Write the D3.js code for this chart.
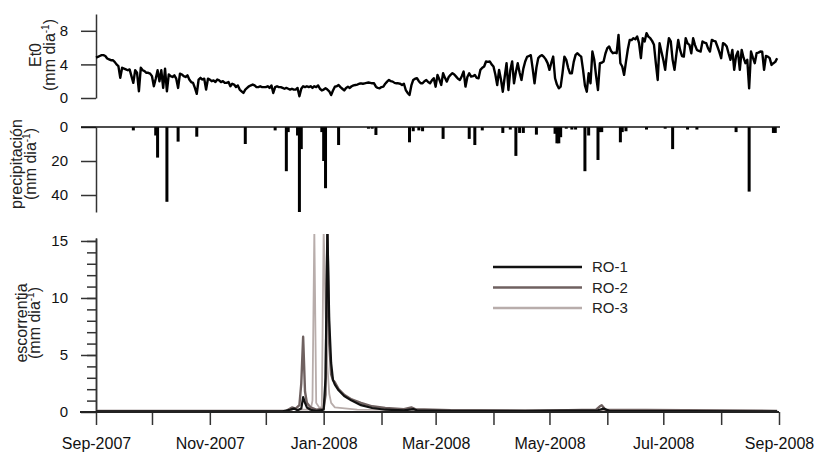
<!DOCTYPE html>
<html>
<head>
<meta charset="utf-8">
<script src="https://cdn.jsdelivr.net/npm/d3@7"></script>
<style>
  body { margin: 0; background: #fff; }
  text { font-family: "Liberation Sans", Arial, sans-serif; }
</style>
</head>
<body>
<div id="chart"></div>
<script>
// ---- data ----
const startDate = new Date(2007, 8, 1);   // day 0 = 1 Sep 2007
const endDate = new Date(2008, 8, 1);

// daily ET0, mm/day, Sep 2007 .. Aug 2008
const et0Values = [
  // Sep
  4.8,4.9,5.0,5.1,5.1,5.0,4.7,4.6,4.5,4.5,4.3,4.0,3.8,2.4,3.6,3.5,3.4,3.3,3.4,2.6,1.8,3.3,3.0,0.8,3.6,3.3,3.2,3.0,3.0,2.9,
  // Oct
  2.6,1.4,2.3,3.3,2.0,3.3,1.2,3.5,0.8,2.8,2.6,2.5,2.7,2.3,1.2,2.9,2.8,2.6,2.5,2.7,2.2,1.9,1.8,1.2,0.5,2.2,2.4,2.2,2.3,1.0,2.3,
  // Nov
  2.2,2.0,2.1,1.9,2.2,2.1,1.9,2.0,1.8,1.8,1.9,1.4,1.7,1.6,1.3,1.5,1.0,0.8,0.6,1.0,1.2,1.4,1.5,1.6,1.5,1.3,1.3,1.4,1.3,1.3,
  // Dec
  1.3,1.4,1.2,1.5,0.6,1.3,1.4,1.3,1.3,1.2,1.1,1.2,1.1,1.0,1.1,1.0,1.0,1.2,0.2,1.1,1.4,1.3,1.4,1.3,1.4,1.2,1.4,1.3,1.5,1.1,0.9,
  // Jan
  1.0,1.15,1.0,0.8,0.35,0.9,1.35,1.4,1.55,1.3,1.1,0.9,1.2,1.35,1.2,1.4,1.5,1.55,1.6,1.7,1.75,1.7,1.75,1.8,1.85,1.8,1.75,1.75,1.35,1.2,1.15,
  // Feb
  1.3,1.35,1.7,1.95,2.15,2.0,1.95,1.8,1.75,1.75,1.7,1.55,1.7,0.95,0.6,0.35,1.5,2.15,2.3,2.35,2.0,1.75,1.75,2.0,2.15,1.9,1.75,2.1,2.35,
  // Mar
  1.35,2.75,2.2,1.55,2.95,2.4,1.95,2.5,2.75,2.95,2.8,2.55,2.3,2.15,2.6,3.15,1.35,2.5,2.95,2.55,2.6,2.75,2.4,2.35,3.35,3.6,3.75,4.35,4.3,4.35,4.0,
  // Apr
  3.75,2.8,1.55,3.35,2.2,0.75,2.5,4.15,0.95,3.3,4.35,1.75,3.1,4.15,3.0,2.15,3.5,4.35,4.9,5.0,5.1,3.5,1.75,3.6,4.75,5.0,5.1,4.9,4.6,4.15,
  // May
  3.35,4.2,4.93,2.35,1.6,1.15,1.35,3.0,4.93,4.54,3.6,2.94,2.94,4.3,5.13,5.33,5.1,4.93,3.35,1.5,0.75,2.94,1.75,5.53,4.54,2.6,0.95,4.14,4.2,4.34,5.3,
  // Jun
  5.93,6.13,5.6,5.33,5.4,5.33,7.52,4.14,3.75,2.75,4.34,5.8,6.92,6.9,7.12,7.0,7.32,6.53,4.74,7.12,6.73,7.72,7.3,7.12,6.8,6.33,4.14,2.15,6.53,5.5,
  // Jul
  4.54,3.35,5.5,7.12,6.73,4.54,3.35,5.2,6.92,5.73,5.0,4.93,7.12,6.5,6.33,5.33,7.12,6.3,5.73,5.6,5.53,6.73,6.6,6.53,5.9,5.53,6.92,6.8,6.73,6.13,5.5,
  // Aug
  4.74,6.53,6.4,6.13,5.3,4.54,5.73,3.35,5.0,5.53,3.35,5.73,4.8,4.14,4.54,1.15,5.53,4.8,4.14,5.33,5.4,5.53,5.5,3.35,5.0,4.93,4.74,3.94,4.14,4.3,4.74
];

// rain events: day index and mm/day
const precipDays = [20, 32, 33, 38, 44, 54, 80, 96, 102, 103, 108, 109, 110, 121, 122, 123, 130, 146, 148, 150,
  168, 170, 173, 175, 186, 200, 203, 207, 218, 222, 225, 227, 229, 236, 246, 247, 248, 249, 252, 255, 257,
  262, 264, 269, 270, 271, 281, 282, 284, 295, 305, 309, 317, 322, 343, 350, 363, 364];
const precipMm = [2, 5, 18, 44, 8.6, 5.7, 10, 2, 26, 3, 5, 50, 13, 3, 20, 36, 10.6, 1, 1, 4.7,
  9, 2.5, 2, 2.5, 7, 7, 10.6, 2, 3.5, 1.5, 17, 3.5, 3.5, 4.5, 4, 9.6, 9.6, 6, 1, 1.5, 1.5,
  26, 5, 19.4, 3, 3, 9, 3, 2.5, 1.5, 1, 13, 1.5, 1.5, 3, 38, 3.5, 3.5];

// runoff, mm/day (day index, value) per plot
const ro1Days = [0, 100, 104, 106, 108, 110, 111, 112, 113, 115, 118, 122, 123, 124, 125, 126, 127, 128, 130, 133, 137, 142, 148, 155, 165, 170, 172, 190, 230, 269, 272, 275, 365];
const ro1Vals = [0.05, 0.05, 0.2, 0.3, 0.15, 0.3, 1.3, 0.8, 0.4, 0.2, 0.1, 0.2, 3, 16, 8, 4.3, 2.8, 2.4, 1.9, 1.4, 1.0, 0.6, 0.35, 0.2, 0.15, 0.25, 0.15, 0.1, 0.1, 0.15, 0.3, 0.1, 0.05];
const ro2Days = [0, 102, 105, 107, 109, 110, 111, 112, 113, 115, 118, 122, 123, 124, 125, 126, 127, 128, 130, 133, 137, 142, 148, 155, 165, 169, 171, 190, 230, 268, 270, 271, 273, 365];
const ro2Vals = [0.1, 0.1, 0.4, 0.3, 0.6, 2.5, 6.6, 1.8, 0.8, 0.4, 0.2, 0.3, 1.5, 16, 6, 3.3, 2.8, 2.6, 2.0, 1.5, 1.1, 0.8, 0.5, 0.35, 0.25, 0.4, 0.25, 0.15, 0.1, 0.2, 0.5, 0.6, 0.2, 0.1];
const ro3Days = [0, 104, 106, 108, 115, 116, 117, 118, 120, 121, 122, 123, 124, 125, 126, 128, 140, 365];
const ro3Vals = [0.1, 0.1, 0.3, 0.2, 0.2, 1, 16, 0.8, 0.3, 0.5, 16, 9, 4, 1.6, 0.8, 0.4, 0.2, 0.1];

const seriesNames = ["RO-1", "RO-2", "RO-3"];
const seriesColors = ["#111111", "#6f6160", "#b8adab"];

const et0Ticks = [0, 4, 8];
const precipTicks = [0, 20, 40];
const runoffTicks = [0, 5, 10, 15];

// ---- drawing ----
const W = 815, H = 456;
const svg = d3.select("#chart").append("svg").attr("width", W).attr("height", H);
const dayDate = d => d3.timeDay.offset(startDate, d);

const x = d3.scaleTime().domain([startDate, endDate]).range([96, 779]);

function styleAxis(g, size) {
    g.attr("font-size", size).attr("font-family", '"Liberation Sans", Arial, sans-serif');
    g.selectAll("path, line").attr("stroke", "#333").attr("stroke-width", 1.5);
    g.selectAll("text").attr("fill", "#111");
}

// ET0 panel
const yEt = d3.scaleLinear().domain([0, 10]).range([98, 14]);
svg.append("g").attr("transform", "translate(96,0)")
    .call(d3.axisLeft(yEt).tickValues(et0Ticks).tickSize(15).tickSizeOuter(0).tickPadding(13))
    .call(g => styleAxis(g, 15));

svg.append("path")
    .datum(et0Values)
    .attr("fill", "none")
    .attr("stroke", "#000")
    .attr("stroke-width", 2.4)
    .attr("stroke-linejoin", "round")
    .attr("d", d3.line().x((d, i) => x(dayDate(i))).y(d => yEt(d)));

// precipitation panel (inverted bars)
const yP = d3.scaleLinear().domain([0, 50]).range([127, 212]);
svg.append("g").attr("transform", "translate(96,0)")
    .call(d3.axisLeft(yP).tickValues(precipTicks).tickSize(15).tickSizeOuter(0).tickPadding(13))
    .call(g => styleAxis(g, 15));

svg.selectAll(".pbar")
    .data(precipDays)
    .enter()
    .append("rect")
    .attr("class", "pbar")
    .attr("x", d => x(dayDate(d)) - 1.5)
    .attr("y", yP(0))
    .attr("width", 3)
    .attr("height", (d, i) => yP(precipMm[i]) - yP(0))
    .attr("fill", "#000");

svg.append("line")
    .attr("x1", 81).attr("x2", x(endDate) + 1)
    .attr("y1", yP(0)).attr("y2", yP(0))
    .attr("stroke", "#111").attr("stroke-width", 1.5);

// runoff panel
const yR = d3.scaleLinear().domain([0, 15.26]).range([412, 238]);

svg.append("g").attr("transform", "translate(96,0)")
    .call(d3.axisLeft(yR).tickValues(d3.range(1, 16)).tickSize(9).tickSizeOuter(0).tickFormat(""))
    .call(g => styleAxis(g, 15));
svg.append("g").attr("transform", "translate(96,0)")
    .call(d3.axisLeft(yR).tickValues(runoffTicks).tickSize(15).tickSizeOuter(0).tickPadding(13))
    .call(g => styleAxis(g, 15));

const fmt = d3.timeFormat("%b-%Y");
svg.append("g").attr("transform", "translate(0,412)")
    .call(d3.axisBottom(x).ticks(d3.timeMonth.every(1)).tickSize(13).tickSizeOuter(0).tickPadding(12.6)
        .tickFormat(d => d.getMonth() % 2 === 0 ? fmt(d) : ""))
    .call(g => styleAxis(g, 16))
    .call(g => g.select(".domain").remove());

svg.append("defs").append("clipPath").attr("id", "clipR")
    .append("rect").attr("x", 96).attr("y", 234).attr("width", 690).attr("height", 180);

const roLine = d3.line().x(d => x(dayDate(d[0]))).y(d => yR(d[1]));
const roSeries = [
    {days: ro3Days, vals: ro3Vals, idx: 2, w: 1.8},
    {days: ro2Days, vals: ro2Vals, idx: 1, w: 2.4},
    {days: ro1Days, vals: ro1Vals, idx: 0, w: 2.2}
];
roSeries.forEach(s => {
    svg.append("path")
        .datum(s.days.map((d, i) => [d, s.vals[i]]))
        .attr("clip-path", "url(#clipR)")
        .attr("fill", "none")
        .attr("stroke", seriesColors[s.idx])
        .attr("stroke-width", s.w)
        .attr("stroke-linejoin", "round")
        .attr("d", roLine);
});

// x axis line on top of the series
svg.append("line")
    .attr("x1", 80).attr("x2", x(endDate))
    .attr("y1", 412).attr("y2", 412)
    .attr("stroke", "#222").attr("stroke-width", 1.8);

// legend
const legend = svg.append("g");
seriesNames.forEach((name, i) => {
    const ly = 267 + i * 20.5;
    legend.append("line")
        .attr("x1", 493).attr("x2", 582).attr("y1", ly).attr("y2", ly)
        .attr("stroke", seriesColors[i]).attr("stroke-width", 2.4);
    legend.append("text")
        .attr("x", 592).attr("y", ly).attr("dy", "0.35em")
        .attr("font-size", 15).attr("fill", "#222")
        .text(name);
});

// y titles (two lines, rotated)
function yTitle(cx, cy, gap, lines) {
    const t = svg.append("text")
        .attr("transform", `translate(${cx},${cy}) rotate(-90)`)
        .attr("text-anchor", "middle")
        .attr("font-size", 16).attr("fill", "#222");
    t.append("tspan").attr("x", 0).attr("y", 0).text(lines[0]);
    const second = t.append("tspan").attr("x", 0).attr("y", gap).text("(mm dia");
    second.append("tspan").attr("font-size", 10).attr("dy", -6).text("-1");
    second.append("tspan").attr("dy", 6).text(")");
}
yTitle(41, 55, 14, ["Et0"]);
yTitle(22, 164, 14, ["precipitación"]);
yTitle(27, 323, 13, ["escorrentia"]);
</script>
</body>
</html>
